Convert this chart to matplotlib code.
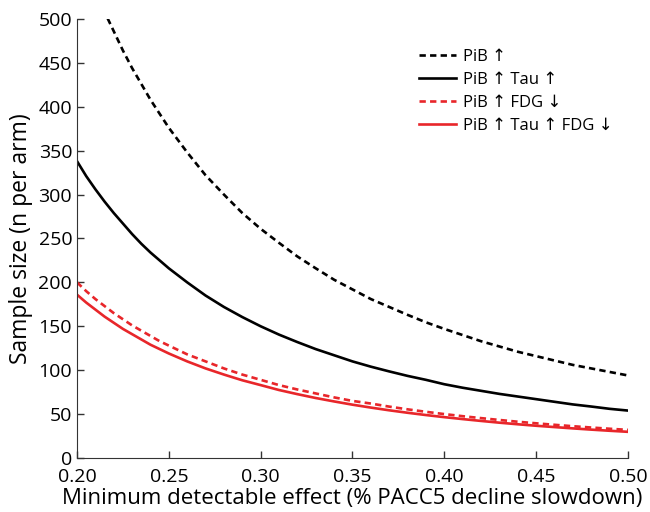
import matplotlib
matplotlib.use("Agg")
import matplotlib.pyplot as plt

plt.rcParams["font.family"] = ["Open Sans", "DejaVu Sans"]

effect = [0.20, 0.205, 0.21, 0.215, 0.22, 0.225, 0.23, 0.235, 0.24, 0.245, 0.25,
          0.26, 0.27, 0.28, 0.29, 0.30,
          0.31, 0.32, 0.33, 0.34, 0.35, 0.36, 0.37, 0.38, 0.39, 0.40,
          0.41, 0.42, 0.43, 0.44, 0.45, 0.46, 0.47, 0.48, 0.49, 0.50]

pib = [587, 559, 533, 508, 486, 464, 444, 426, 408, 392, 376,
       348, 322, 300, 279, 261,
       245, 229.5, 216, 203, 192, 181, 172, 163, 154.5, 147,
       140, 133, 127, 121, 116, 111, 106, 102, 98, 94]
pib_tau = [338, 321, 306, 292, 279, 267, 255, 244, 234, 225, 216,
           200, 185, 172, 160.5, 150,
           140.5, 132, 124, 117, 110, 104, 98.6, 93.5, 89, 84,
           80, 76.5, 73, 70, 67, 64, 61, 58.6, 56, 54]
pib_fdg = [200, 190, 181, 173, 165, 158, 151, 145, 139, 133, 128,
           118, 110, 102, 95, 89,
           83, 78, 73.5, 69, 65, 62, 58.5, 55.4, 52.6, 50,
           47.6, 45.4, 43.3, 41.3, 39.5, 37.8, 36.2, 34.7, 33.3, 32]
pib_tau_fdg = [186, 177, 169, 161, 154, 147, 141, 135, 129, 124, 119,
               110, 102, 95, 88.5, 83,
               77.4, 72.7, 68.3, 64.4, 60.7, 57.4, 54.3, 51.5, 48.9, 46.5,
               44.3, 42.2, 40.2, 38.4, 36.7, 35.2, 33.7, 32.3, 31, 29.8]

labels = ["PiB \u2191", "PiB \u2191 Tau \u2191", "PiB \u2191 FDG \u2193", "PiB \u2191 Tau \u2191 FDG \u2193"]
xticks = [0.20, 0.25, 0.30, 0.35, 0.40, 0.45, 0.50]
yticks = [0, 50, 100, 150, 200, 250, 300, 350, 400, 450, 500]

RED = "#e8262a"
DASH = (0, (2.4, 1.6))
fig = plt.figure(figsize=(6.5, 5.12), dpi=100)
ax = fig.add_axes([0.1185, 0.1055, 0.8475, 0.8575])

ax.plot(effect, pib, color="black", lw=1.9, ls=DASH, label=labels[0])
ax.plot(effect, pib_tau, color="black", lw=1.9, label=labels[1])
ax.plot(effect, pib_fdg, color=RED, lw=1.9, ls=DASH, label=labels[2])
ax.plot(effect, pib_tau_fdg, color=RED, lw=1.9, label=labels[3])

ax.set_xlim(0.20, 0.50); ax.set_ylim(0, 500)
ax.set_xticks(xticks); ax.set_xticklabels([f"{t:.2f}" for t in xticks])
ax.set_yticks(yticks)
ax.tick_params(direction="in", labelsize=14, length=5, width=1, color="#333333")
ax.tick_params(axis="x", pad=7)
for s in ["top", "right"]:
    ax.spines[s].set_visible(False)
for s in ["left", "bottom"]:
    ax.spines[s].set_color("#333333")
ax.set_xlabel("Minimum detectable effect (% PACC5 decline slowdown)", fontsize=16, labelpad=2)
ax.set_ylabel("Sample size (n per arm)", fontsize=16.5, labelpad=4)
ax.legend(loc="upper right", bbox_to_anchor=(1.0, 0.965), frameon=False, fontsize=12,
          handlelength=2.2, labelspacing=0.42, handletextpad=0.45)

fig.savefig("out.png", dpi=100)
